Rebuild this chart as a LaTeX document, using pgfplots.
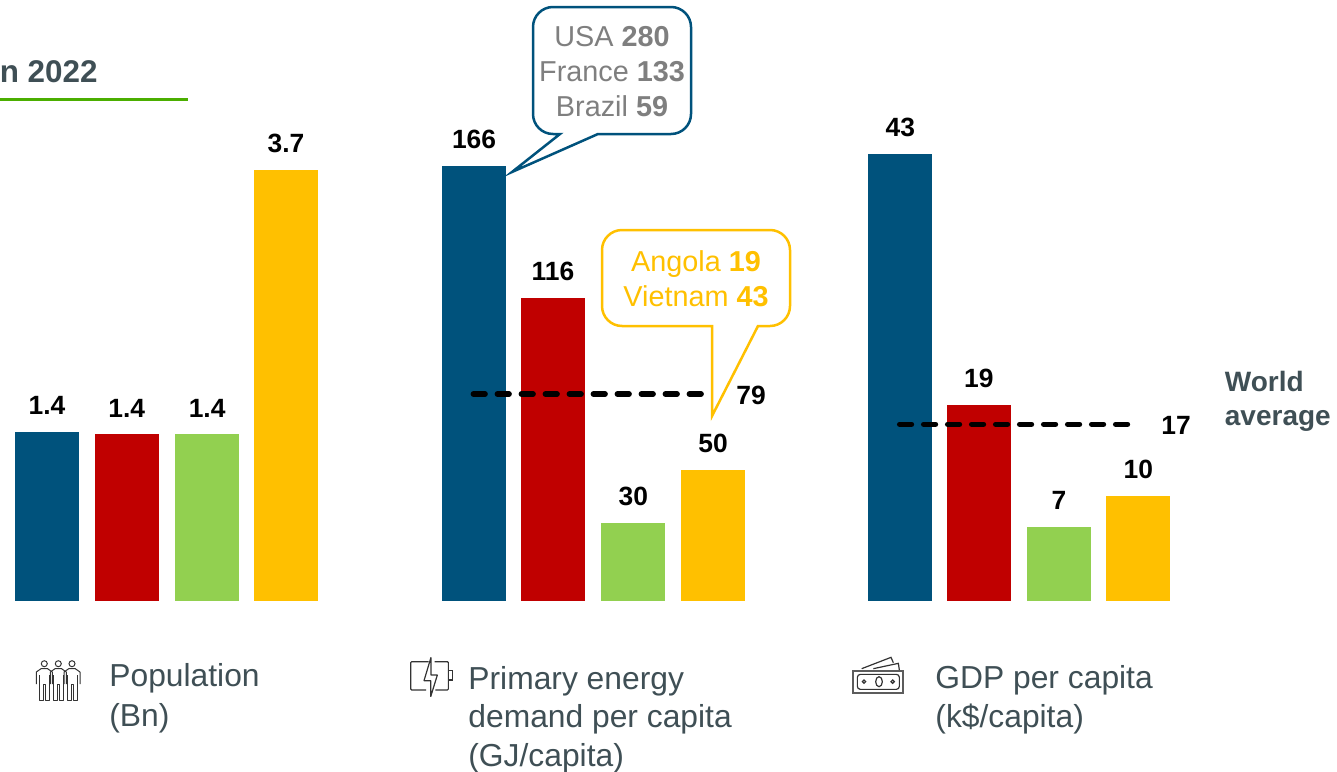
\documentclass[border=0pt]{standalone}
\usepackage{pgfplots}
\pgfplotsset{compat=1.18}
\usepackage{fontspec}
\setmainfont{Liberation Sans}
\definecolor{cblue}{HTML}{00527C}
\definecolor{cred}{HTML}{C00000}
\definecolor{cgreen}{HTML}{92D050}
\definecolor{cyel}{HTML}{FFC000}
\definecolor{cdark}{HTML}{3F4F55}
\definecolor{cgray}{HTML}{7F7F7F}
\definecolor{cline}{HTML}{4BAE00}
\definecolor{cicon}{HTML}{333333}
\newcommand{\fs}[1]{\fontsize{#1}{#1}\selectfont}
\pgfplotsset{
  panel/.style={hide axis, clip=false, enlargelimits=false, xmin=-0.5, xmax=3.5, ymin=0, anchor=south west, x=#1,
    /pgf/number format/assume math mode=true},
  vbar/.style={ybar, bar width=32pt, bar shift=0pt, draw=none, fill=#1,
    nodes near coords, every node near coord/.append style={font=\bfseries\fs{13.2}, text=black, anchor=south, inner sep=0pt, yshift=8.4pt,
    /pgf/number format/assume math mode=true}},
  avg/.style={black, line width=2.6pt, line cap=round, dash pattern=on 6pt off 6pt, no markers}
}
\begin{document}
\begin{tikzpicture}[x=0.5pt,y=-0.5pt]
\useasboundingbox (0,0) rectangle (1337,771);
% title
\node[anchor=base east, inner sep=0pt, text=cdark, font=\bfseries\fs{15.7}] at (98,82) {n 2022};
\draw[cline, line width=1.4pt] (0,99.5) -- (188,99.5);
% population
\begin{axis}[panel=39.83pt, y=58.25pt, ymax=3.7, at={(3.6pt,-300.5pt)},
  /pgf/number format/fixed, /pgf/number format/fixed zerofill, /pgf/number format/precision=1]
\addplot[vbar=cblue] coordinates {(0,1.449)};
\addplot[vbar=cred] coordinates {(1,1.43)};
\addplot[vbar=cgreen] coordinates {(2.01,1.43)};
\addplot[vbar=cyel] coordinates {(3,3.7)};
\end{axis}
% energy
\begin{axis}[panel=39.83pt, y=1.31pt, ymax=166, at={(217.1pt,-300.5pt)},
  /pgf/number format/fixed, /pgf/number format/precision=0]
\addplot[vbar=cblue] coordinates {(0,166)};
\addplot[vbar=cred] coordinates {(0.99,115.7)};
\addplot[vbar=cgreen] coordinates {(2,29.8)};
\addplot[vbar=cyel] coordinates {(3,50)};
\addplot[avg] coordinates {(-0.01,79) (2.91,79)};
\end{axis}
% GDP
\begin{axis}[panel=39.67pt, y=5.2pt, ymax=43, at={(430.35pt,-300.5pt)},
  /pgf/number format/fixed, /pgf/number format/precision=0]
\addplot[vbar=cblue] coordinates {(0,43)};
\addplot[vbar=cred] coordinates {(0.99,18.85)};
\addplot[vbar=cgreen] coordinates {(2,7.1)};
\addplot[vbar=cyel] coordinates {(3,10.1)};
\addplot[avg] coordinates {(-0.01,17) (2.92,17)};
\end{axis}
% average labels
\node[font=\bfseries\fs{13.2}, inner sep=0pt] at (751,395) {79};
\node[font=\bfseries\fs{13.2}, inner sep=0pt] at (1176,425) {17};
\node[font=\bfseries\fs{14}, text=cdark, inner sep=0pt, anchor=base west] at (1224.5,391) {World};
\node[font=\bfseries\fs{14}, text=cdark, inner sep=0pt, anchor=base west] at (1224.5,425) {average};
% blue callout
\draw[cblue, line width=1.25pt, line join=miter, fill=white]
  (553,7) -- (671,7) arc[start angle=90, end angle=0, x radius=20, y radius=-20]
  -- (691,114) arc[start angle=0, end angle=-90, x radius=20, y radius=-20]
  -- (598,134) -- (512,172) -- (560,134) -- (553,134)
  arc[start angle=-90, end angle=-180, x radius=20, y radius=-20]
  -- (533,27) arc[start angle=180, end angle=90, x radius=20, y radius=-20] -- cycle;
\node[font=\fs{14.4}, text=cgray, inner sep=0pt, anchor=base] at (612,46) {USA \textbf{280}};
\node[font=\fs{14.4}, text=cgray, inner sep=0pt, anchor=base] at (612,81) {France \textbf{133}};
\node[font=\fs{14.4}, text=cgray, inner sep=0pt, anchor=base] at (612,116) {Brazil \textbf{59}};
% yellow callout
\draw[cyel, line width=1.25pt, line join=miter, fill=white]
  (622,230) -- (770,230) arc[start angle=90, end angle=0, x radius=20, y radius=-20]
  -- (790,306) arc[start angle=0, end angle=-90, x radius=20, y radius=-20]
  -- (758,326) -- (712,416) -- (712,326) -- (622,326)
  arc[start angle=-90, end angle=-180, x radius=20, y radius=-20]
  -- (602,250) arc[start angle=180, end angle=90, x radius=20, y radius=-20] -- cycle;
\node[font=\fs{14.4}, text=cyel, inner sep=0pt, anchor=base] at (696,271) {Angola \textbf{19}};
\node[font=\fs{14.4}, text=cyel, inner sep=0pt, anchor=base] at (696,306) {Vietnam \textbf{43}};
% category labels
\tikzset{cat/.style={font=\fs{15.9}, text=cdark, inner sep=0pt, anchor=base west}}
\node[cat] at (109,686) {Population};
\node[cat] at (109,726) {(Bn)};
\node[cat] at (468,689) {Primary energy};
\node[cat] at (468,727) {demand per capita};
\node[cat] at (468,766) {(GJ/capita)};
\node[cat] at (935,688) {GDP per capita};
\node[cat] at (935,727) {(k\$/capita)};
% people icon
\foreach \c in {44.3,58.3,72} {
  \draw[cicon, line width=0.5pt] (\c,663.7) circle[radius=3];
  \draw[cicon, line width=0.5pt, line join=round]
    (\c-8,684) -- (\c-8,672) -- (\c-3,668.5) -- (\c+3,668.5) -- (\c+8,672) -- (\c+8,684);
  \draw[cicon, line width=0.5pt, line join=round]
    (\c-5,675) -- (\c-5,700.5) -- (\c-1,700.5) -- (\c-1,684) -- (\c+1,684) -- (\c+1,700.5) -- (\c+5,700.5) -- (\c+5,675);
}
% battery icon
\begin{scope}[shift={(400,640)}, x=0.1667pt, y=-0.1667pt]
  \draw[cicon, line width=0.6pt, rounded corners=0.5pt] (86,65) -- (32,65) -- (32,150) -- (78,150);
  \draw[cicon, line width=0.6pt, rounded corners=0.5pt] (104,65) -- (145,65) -- (145,150) -- (106,150);
  \draw[cicon, line width=0.6pt] (145,92) -- (158,92) -- (158,120) -- (145,120);
  \draw[cicon, line width=0.6pt, line join=bevel] (93,52) -- (72,122) -- (92,122) -- (92,170) -- (112,105) -- (93,105) -- cycle;
\end{scope}
% money icon
\begin{scope}[shift={(840,640)}, x=0.1667pt, y=-0.1667pt]
  \draw[cicon!80, line width=0.9pt] (40,92) rectangle (190,158);
  \draw[cicon, line width=0.6pt, rounded corners=1.5pt] (52,103) rectangle (178,148);
  \draw[cicon, line width=0.6pt] (72,125) circle[radius=5];
  \draw[cicon, line width=0.6pt] (158,125) circle[radius=5];
  \draw[cicon, line width=0.6pt] (117,125) ellipse[x radius=10, y radius=15];
  \draw[cicon, line width=0.6pt] (65,86) -- (153,52) -- (160,68);
  \draw[cicon, line width=0.6pt] (100,86) -- (175,70) -- (178,90);
\end{scope}
\end{tikzpicture}
\end{document}
